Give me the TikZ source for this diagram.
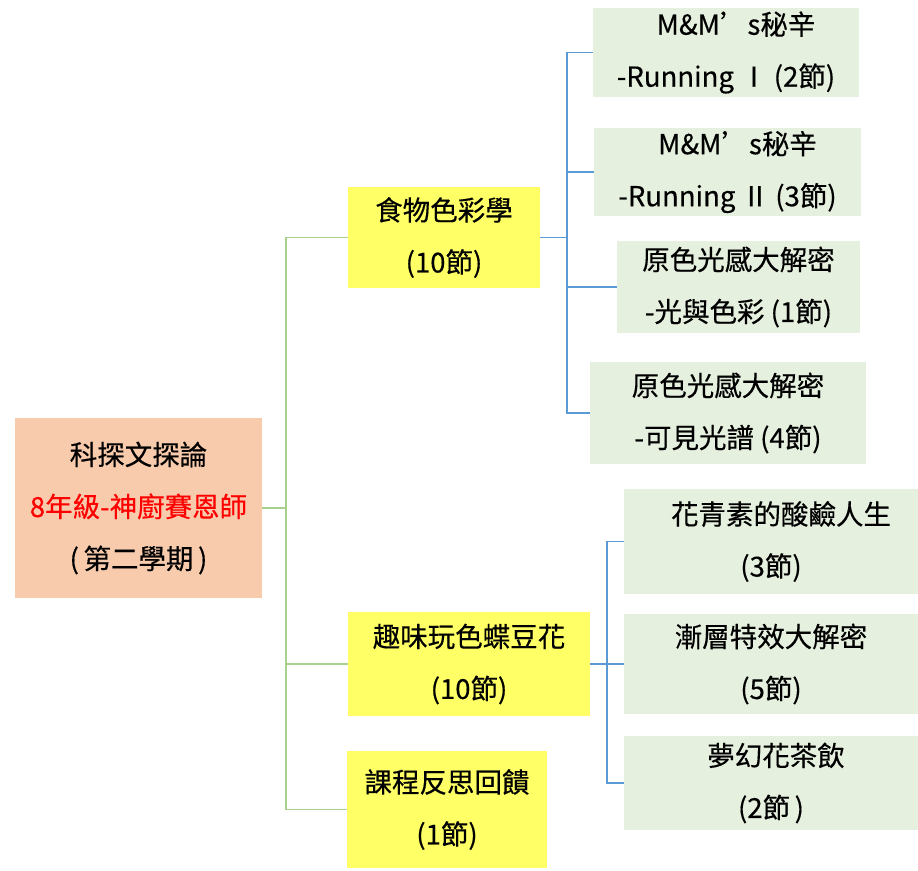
\documentclass[tikz,border=0pt]{standalone}
\usepackage{fontspec}
\setmainfont[FakeBold=0.4]{Noto Sans CJK TC}
\definecolor{peach}{HTML}{F8CBAD}
\definecolor{yel}{HTML}{FFFF66}
\definecolor{lgreen}{HTML}{E6F0DF}
\definecolor{gline}{HTML}{A9D18E}
\definecolor{bline}{HTML}{5B9BD5}
\begin{document}
\begin{tikzpicture}[x=1pt,y=-1pt,
  box/.style={inner sep=0pt, align=center, font=\fontsize{27.5}{52}\selectfont},
  rootbox/.style={box, fill=peach},
  midbox/.style={box, fill=yel},
  leafbox/.style={box, fill=lgreen},
  gconn/.style={draw=gline, line width=1.5pt},
  bconn/.style={draw=bline, line width=1.5pt}]
\useasboundingbox (0,0) rectangle (918,870);
% root
\node[rootbox, minimum width=247pt, minimum height=180pt] (root) at (138.5,508) {科探文探論\\\textcolor{red}{8年級-神廚賽恩師}\\(\,第二學期\,)};
% middle
\node[midbox, minimum width=192pt, minimum height=101pt] (food) at (444,237.5) {食物色彩學\\(10節)};
\node[midbox, minimum width=242pt, minimum height=104pt] (fun) at (469,664) {趣味玩色蝶豆花\\(10節)};
\node[midbox, minimum width=200pt, minimum height=117pt] (rev) at (447,809.5) {課程反思回饋\\(1節)};
% leaves
\node[leafbox, minimum width=266pt, minimum height=89pt] (m1) at (726,52.5) {\hspace*{20pt}M\&M’s秘辛\\-Running Ⅰ (2節)};
\node[leafbox, minimum width=267pt, minimum height=88pt] (m2) at (727.5,172) {\hspace*{20pt}M\&M’s秘辛\\-Running Ⅱ (3節)};
\node[leafbox, minimum width=243pt, minimum height=92pt] (c1) at (738.5,287) {原色光感大解密\\-光與色彩 (1節)};
\node[leafbox, minimum width=276pt, minimum height=102pt] (c2) at (728,413) {原色光感大解密\\-可見光譜 (4節)};
\node[leafbox, minimum width=294pt, minimum height=105pt] (f1) at (771,541.5) {\hspace*{20pt}花青素的酸鹼人生\\(3節)};
\node[leafbox, minimum width=294pt, minimum height=100pt] (f2) at (771,664) {漸層特效大解密\\(5節)};
\node[leafbox, minimum width=294pt, minimum height=94pt] (f3) at (771,783) {\hspace*{10pt}夢幻花茶飲\\(2節\,)};
% green connectors
\coordinate (gj) at (286,508);
\draw[gconn] (root.east) -- (gj);
\draw[gconn] (gj) |- (food.west);
\draw[gconn] (gj) |- (fun.west);
\draw[gconn] (gj) |- (rev.west);
% blue connectors
\coordinate (bj) at (567,237.5);
\draw[bconn] (food.east) -- (bj);
\draw[bconn] (bj) |- (m1.west);
\draw[bconn] (bj) |- (m2.west);
\draw[bconn] (bj) |- (c1.west);
\draw[bconn] (bj) |- (c2.west);
\coordinate (bk) at (607,664);
\draw[bconn] (fun.east) -- (bk);
\draw[bconn] (bk) |- (f1.west);
\draw[bconn] (bk) |- (f2.west);
\draw[bconn] (bk) |- (f3.west);
\end{tikzpicture}
\end{document}
